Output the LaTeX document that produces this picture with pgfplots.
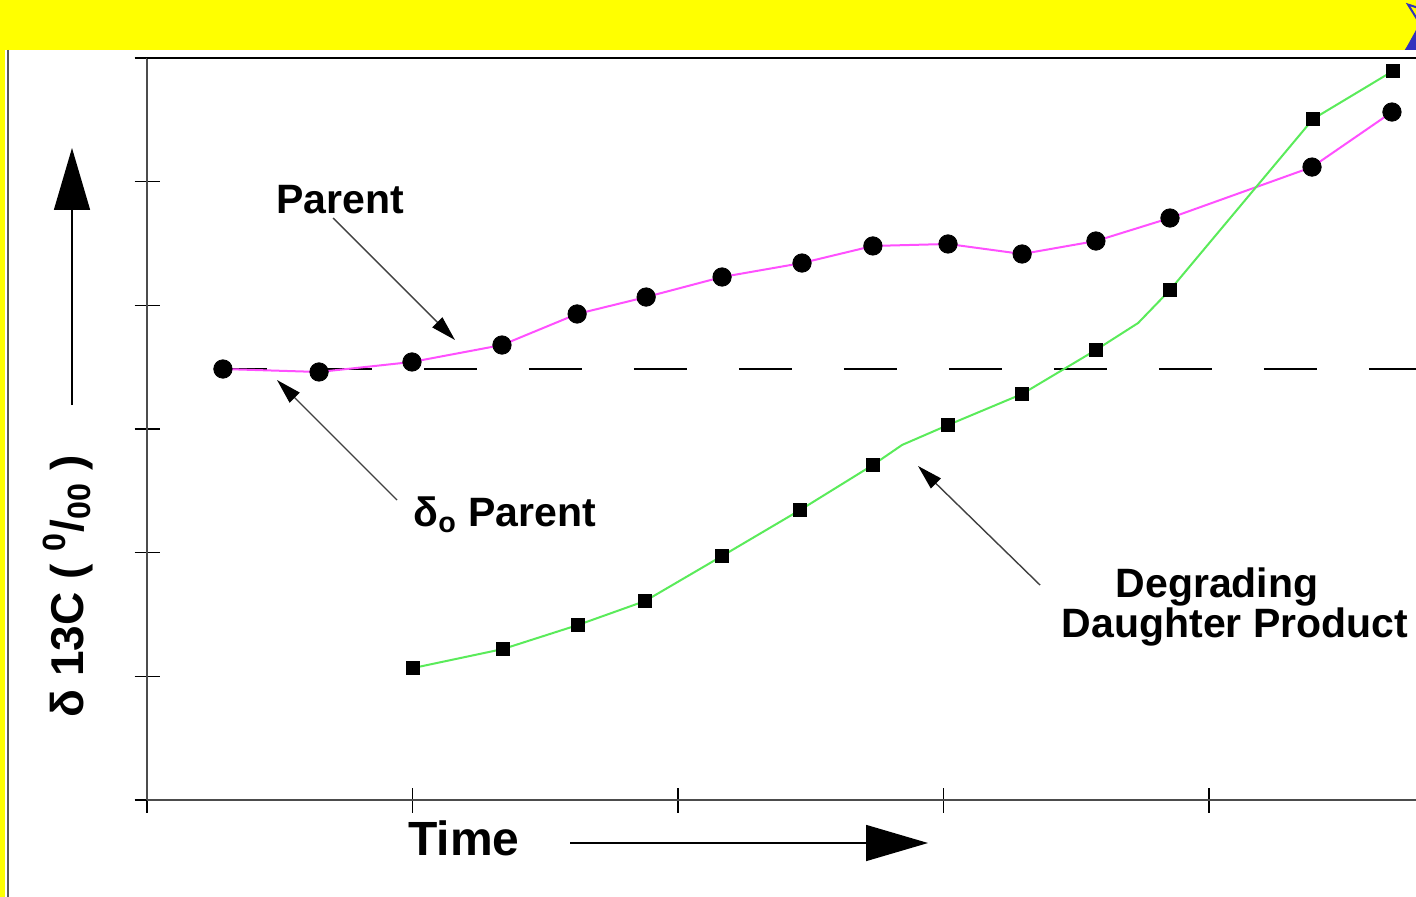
\documentclass[border=0pt]{standalone}
\usepackage{pgfplots}
\pgfplotsset{compat=1.18}
\usepackage{fontspec}
\setmainfont{Liberation Sans}
\usetikzlibrary{arrows.meta,shapes.geometric}
\definecolor{parentc}{RGB}{255,80,255}
\definecolor{daughterc}{RGB}{90,235,90}
\definecolor{bandyellow}{RGB}{255,255,0}
\definecolor{starc}{RGB}{50,50,190}

\pgfplotstableread{
x y
0.286 3.485
0.648 3.461
0.998 3.542
1.337 3.679
1.620 3.930
1.880 4.067
2.166 4.229
2.467 4.342
2.734 4.480
3.017 4.496
3.296 4.415
3.574 4.520
3.853 4.706
4.388 5.118
4.689 5.563
}\parent

\pgfplotstableread{
x y
1.002 1.067
1.341 1.221
1.623 1.415
1.876 1.609
2.166 1.973
2.460 2.345
2.734 2.709
3.017 3.032
3.296 3.283
3.574 3.639
3.853 4.124
4.392 5.507
4.693 5.895
}\daughter

\pgfplotstableread{
x y
1.002 1.067
1.341 1.221
1.623 1.415
1.876 1.609
2.166 1.973
2.460 2.345
2.734 2.709
2.844 2.871
3.017 3.032
3.296 3.283
3.574 3.639
3.733 3.857
3.853 4.124
4.392 5.507
4.693 5.895
}\daughterline

\begin{document}
\begin{tikzpicture}
\useasboundingbox (0,0) rectangle (708pt,-448.5pt);
\begin{scope}[x=0.5pt,y=-0.5pt]
\fill[white] (0,0) rectangle (1416,897);
\fill[bandyellow] (0,0) rectangle (1416,50);
\fill[bandyellow] (0,0) rectangle (5,897);
\draw[black!65, line width=1pt] (7.5,50) -- (7.5,897);
\begin{scope}
\clip (1380,0) rectangle (1416,50);
\node[star, star points=5, star point ratio=2.4, draw=starc, line width=1pt, fill=bandyellow, minimum size=38pt, rotate=-20] at (1438,28) {};
\fill[starc] (1405,50) -- (1416,30) -- (1416,50) -- cycle;
\end{scope}
\end{scope}

\begin{axis}[
  at={(73.5pt,-400pt)}, anchor=origin,
  x=132.75pt, y=61.835pt,
  xmin=0, xmax=4.78, ymin=0, ymax=6,
  axis lines=left,
  axis line style={-, draw=black!70, line width=1pt},
  xtick={0,1,2,3,4}, ytick={0,1,2,3,4,5,6},
  xticklabels={}, yticklabels={},
  tick align=center, major tick length=12.5pt,
  tick style={black, line width=0.7pt},
  clip=false,
]
\draw[black, line width=1pt] (axis cs:0,6) -- (axis cs:4.78,6);
\addplot[black, line width=0.8pt, dash pattern=on 26.5pt off 26pt] coordinates {(0.252,3.485) (4.78,3.485)};
\addplot[parentc, line width=1pt, no marks] table {\parent};
\addplot[daughterc, line width=1pt, no marks] table {\daughterline};
\addplot[only marks, mark=*, mark size=4.6pt, black] table {\parent};
\addplot[only marks, mark=square*, mark size=3.3pt, black] table {\daughter};
\end{axis}

\begin{scope}[x=0.5pt,y=-0.5pt, every node/.style={font=\bfseries\fontsize{20.5}{24}\selectfont, inner sep=0pt}]
\node at (340,200) {Parent};
\node[anchor=west] at (413,515) {δ\textsubscript{o} Parent};
\node at (1217,587) {Degrading};
\node at (1235,627) {Daughter Product};
\node[font=\bfseries\fontsize{24}{28}\selectfont] at (464,838) {Time};
\node[rotate=90, font=\bfseries\fontsize{23}{26}\selectfont] at (68,586) {δ 13C ( \textsuperscript{0}/\textsubscript{00} )};
\draw[black!75, line width=0.7pt, -{Triangle[length=12.5pt,width=7pt,color=black]}] (333,218) -- (455,340);
\draw[black!75, line width=0.7pt, -{Triangle[length=12.5pt,width=7pt,color=black]}] (397,500) -- (277,380);
\draw[black!75, line width=0.7pt, -{Triangle[length=12.5pt,width=7pt,color=black]}] (1040,585) -- (918,466);
\draw[black, line width=0.8pt, -{Triangle[length=31pt,width=18pt]}] (570,843) -- (928,843);
\draw[black, line width=0.8pt, -{Triangle[length=31pt,width=18pt]}] (72,405) -- (72,148);
\end{scope}
\end{tikzpicture}
\end{document}
